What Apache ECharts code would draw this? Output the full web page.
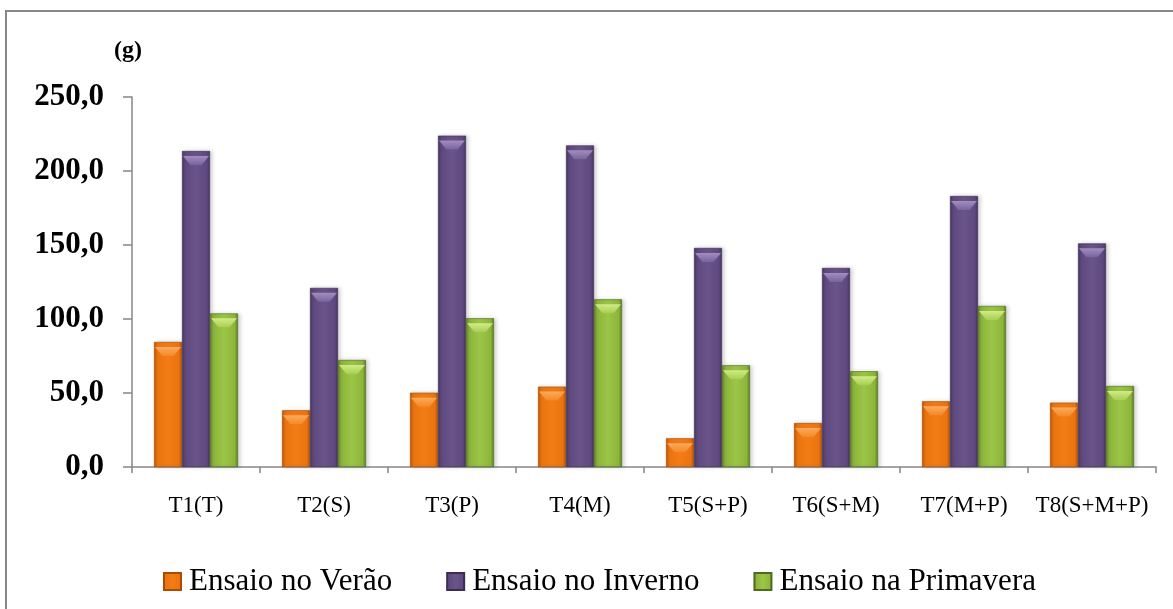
<!DOCTYPE html>
<html>
<head>
<meta charset="utf-8">
<title>Ensaios</title>
<script src="https://cdn.jsdelivr.net/npm/echarts@6/dist/echarts.min.js"></script>
<style>
  html, body { margin: 0; padding: 0; background: #ffffff; }
  #chart { width: 1173px; height: 609px; }
</style>
</head>
<body>
<div id="chart"></div>
<script>
// Treatments on the category axis
const categories = ['T1(T)', 'T2(S)', 'T3(P)', 'T4(M)', 'T5(S+P)', 'T6(S+M)', 'T7(M+P)', 'T8(S+M+P)'];

// Mass (g) per treatment for each trial
const verao = [84.5, 38.3, 50.2, 54.3, 19.4, 29.7, 44.4, 43.5];
const inverno = [213.5, 121.0, 223.9, 217.3, 148.0, 134.5, 183.1, 151.1];
const primavera = [103.8, 72.3, 100.5, 113.3, 68.7, 64.7, 108.8, 54.7];

const seriesNames = ['Ensaio no Verão', 'Ensaio no Inverno', 'Ensaio na Primavera'];

const FONT = "'Liberation Serif', 'Times New Roman', serif";

// Bevelled look: dark edges, lighter centre
function bevel(edge, mid, light) {
  return {
    type: 'linear', x: 0, y: 0, x2: 1, y2: 0,
    colorStops: [
      { offset: 0, color: edge },
      { offset: 0.12, color: mid },
      { offset: 0.5, color: light },
      { offset: 0.88, color: mid },
      { offset: 1, color: edge }
    ]
  };
}

const palettes = [
  bevel('#b85405', '#ec7410', '#f27c16'),
  bevel('#45355f', '#5f4a7f', '#6a5489'),
  bevel('#5f7e24', '#8cb53c', '#9cc646')
];
const borders = ['#a84c04', '#3a2c52', '#4f6a1e'];
const caps = [
  ['#fbb067', '#f58a26'],
  ['#a895c4', '#7a66a0'],
  ['#d8f08e', '#a8d052']
];

function barSeries(name, data, i) {
  return {
    name: name,
    type: 'bar',
    data: data,
    barWidth: 28,
    barGap: '0%',
    itemStyle: {
      color: palettes[i],
      borderColor: borders[i],
      borderWidth: 0.6,
      shadowColor: 'rgba(0,0,0,0.18)',
      shadowBlur: 4,
      shadowOffsetX: 2,
      shadowOffsetY: 0
    },
    emphasis: { disabled: true }
  };
}

// Light bevel wedge at the top of each bar
function capSeries(name, data, i) {
  return {
    name: name,
    type: 'pictorialBar',
    data: data,
    barWidth: 28,
    barGap: '0%',
    symbol: 'path://M0,0 L28,0 L20,9 L8,9 Z',
    symbolSize: [26, 9],
    symbolPosition: 'end',
    symbolOffset: [0, '55%'],
    z: 3,
    silent: true,
    itemStyle: {
      color: { type: 'linear', x: 0, y: 0, x2: 0, y2: 1,
        colorStops: [{ offset: 0, color: caps[i][0] }, { offset: 1, color: caps[i][1] }] },
      opacity: 0.9
    },
    emphasis: { disabled: true }
  };
}

const chart = echarts.init(document.getElementById('chart'), null, { renderer: 'canvas' });

chart.setOption({
  backgroundColor: '#ffffff',
  animation: false,
  textStyle: { fontFamily: FONT },
  graphic: [{
    type: 'rect',
    shape: { x: 6, y: 11, width: 1200, height: 640 },
    style: { fill: 'none', stroke: '#878787', lineWidth: 2 },
    silent: true,
    z: -10
  }],
  grid: { left: 132, right: 17, top: 97, bottom: 142, containLabel: false },
  legend: {
    left: 158,
    top: 561,
    itemWidth: 17,
    itemHeight: 17,
    itemGap: 54,
    icon: 'rect',
    textStyle: { fontFamily: FONT, fontSize: 31, color: '#000000', padding: [0, 0, 0, 3] },
    data: seriesNames
  },
  xAxis: {
    type: 'category',
    data: categories,
    axisLine: { lineStyle: { color: '#868686', width: 1.5 } },
    axisTick: { show: true, interval: 0, length: 6, lineStyle: { color: '#868686', width: 1.5 } },
    axisLabel: { interval: 0, fontFamily: FONT, fontSize: 23, color: '#000000', margin: 27 }
  },
  yAxis: {
    type: 'value',
    min: 0,
    max: 250,
    interval: 50,
    name: '(g)',
    nameLocation: 'end',
    nameGap: 34,
    nameTextStyle: { fontFamily: FONT, fontSize: 24, fontWeight: 'bold', color: '#000000', align: 'center', padding: [0, 8, 0, 0] },
    axisLine: { show: true, lineStyle: { color: '#868686', width: 1.5 } },
    axisTick: { show: true, length: 9, lineStyle: { color: '#868686', width: 1.5 } },
    splitLine: { show: false },
    axisLabel: {
      fontFamily: FONT, fontSize: 31, fontWeight: 'bold', color: '#000000', margin: 28,
      formatter: v => v.toFixed(1).replace('.', ',')
    }
  },
  series: [
    barSeries(seriesNames[0], verao, 0),
    barSeries(seriesNames[1], inverno, 1),
    barSeries(seriesNames[2], primavera, 2),
    capSeries(seriesNames[0], verao, 0),
    capSeries(seriesNames[1], inverno, 1),
    capSeries(seriesNames[2], primavera, 2)
  ]
});
</script>
</body>
</html>
